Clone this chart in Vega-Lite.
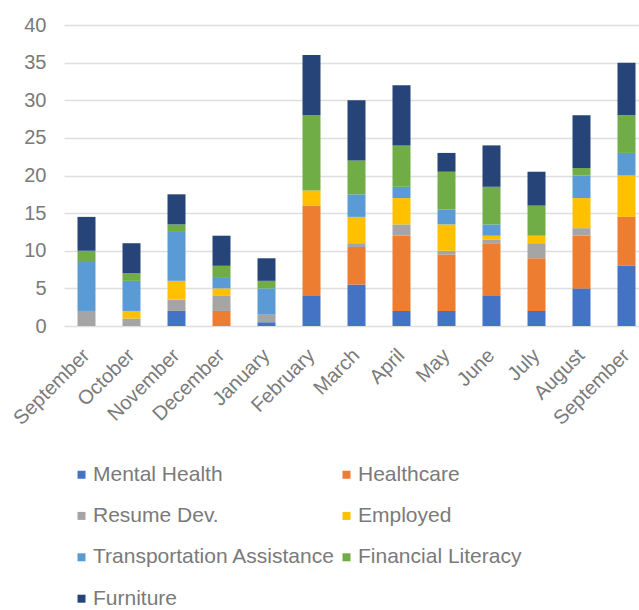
{
  "$schema": "https://vega.github.io/schema/vega-lite/v6.json",
  "autosize": {"type": "none"},
  "width": 575,
  "height": 301,
  "padding": {"left": 64, "top": 25, "right": 0, "bottom": 284},
  "background": "white",
  "config": {"view": {"stroke": null}, "font": "Liberation Sans"},
  "data": {"values": [
    {"month": "September 2019", "series": "Resume Dev.", "k": 2, "value": 2},
    {"month": "September 2019", "series": "Transportation Assistance", "k": 4, "value": 6.5},
    {"month": "September 2019", "series": "Financial Literacy", "k": 5, "value": 1.5},
    {"month": "September 2019", "series": "Furniture", "k": 6, "value": 4.5},

    {"month": "October 2019", "series": "Resume Dev.", "k": 2, "value": 1},
    {"month": "October 2019", "series": "Employed", "k": 3, "value": 1},
    {"month": "October 2019", "series": "Transportation Assistance", "k": 4, "value": 4},
    {"month": "October 2019", "series": "Financial Literacy", "k": 5, "value": 1},
    {"month": "October 2019", "series": "Furniture", "k": 6, "value": 4},

    {"month": "November 2019", "series": "Mental Health", "k": 0, "value": 2},
    {"month": "November 2019", "series": "Resume Dev.", "k": 2, "value": 1.5},
    {"month": "November 2019", "series": "Employed", "k": 3, "value": 2.5},
    {"month": "November 2019", "series": "Transportation Assistance", "k": 4, "value": 6.5},
    {"month": "November 2019", "series": "Financial Literacy", "k": 5, "value": 1},
    {"month": "November 2019", "series": "Furniture", "k": 6, "value": 4},

    {"month": "December 2019", "series": "Healthcare", "k": 1, "value": 2},
    {"month": "December 2019", "series": "Resume Dev.", "k": 2, "value": 2},
    {"month": "December 2019", "series": "Employed", "k": 3, "value": 1},
    {"month": "December 2019", "series": "Transportation Assistance", "k": 4, "value": 1.5},
    {"month": "December 2019", "series": "Financial Literacy", "k": 5, "value": 1.5},
    {"month": "December 2019", "series": "Furniture", "k": 6, "value": 4},

    {"month": "January 2020", "series": "Mental Health", "k": 0, "value": 0.5},
    {"month": "January 2020", "series": "Resume Dev.", "k": 2, "value": 1},
    {"month": "January 2020", "series": "Transportation Assistance", "k": 4, "value": 3.5},
    {"month": "January 2020", "series": "Financial Literacy", "k": 5, "value": 1},
    {"month": "January 2020", "series": "Furniture", "k": 6, "value": 3},

    {"month": "February 2020", "series": "Mental Health", "k": 0, "value": 4},
    {"month": "February 2020", "series": "Healthcare", "k": 1, "value": 12},
    {"month": "February 2020", "series": "Employed", "k": 3, "value": 2},
    {"month": "February 2020", "series": "Financial Literacy", "k": 5, "value": 10},
    {"month": "February 2020", "series": "Furniture", "k": 6, "value": 8},

    {"month": "March 2020", "series": "Mental Health", "k": 0, "value": 5.5},
    {"month": "March 2020", "series": "Healthcare", "k": 1, "value": 5},
    {"month": "March 2020", "series": "Resume Dev.", "k": 2, "value": 0.5},
    {"month": "March 2020", "series": "Employed", "k": 3, "value": 3.5},
    {"month": "March 2020", "series": "Transportation Assistance", "k": 4, "value": 3},
    {"month": "March 2020", "series": "Financial Literacy", "k": 5, "value": 4.5},
    {"month": "March 2020", "series": "Furniture", "k": 6, "value": 8},

    {"month": "April 2020", "series": "Mental Health", "k": 0, "value": 2},
    {"month": "April 2020", "series": "Healthcare", "k": 1, "value": 10},
    {"month": "April 2020", "series": "Resume Dev.", "k": 2, "value": 1.5},
    {"month": "April 2020", "series": "Employed", "k": 3, "value": 3.5},
    {"month": "April 2020", "series": "Transportation Assistance", "k": 4, "value": 1.5},
    {"month": "April 2020", "series": "Financial Literacy", "k": 5, "value": 5.5},
    {"month": "April 2020", "series": "Furniture", "k": 6, "value": 8},

    {"month": "May 2020", "series": "Mental Health", "k": 0, "value": 2},
    {"month": "May 2020", "series": "Healthcare", "k": 1, "value": 7.5},
    {"month": "May 2020", "series": "Resume Dev.", "k": 2, "value": 0.5},
    {"month": "May 2020", "series": "Employed", "k": 3, "value": 3.5},
    {"month": "May 2020", "series": "Transportation Assistance", "k": 4, "value": 2},
    {"month": "May 2020", "series": "Financial Literacy", "k": 5, "value": 5},
    {"month": "May 2020", "series": "Furniture", "k": 6, "value": 2.5},

    {"month": "June 2020", "series": "Mental Health", "k": 0, "value": 4},
    {"month": "June 2020", "series": "Healthcare", "k": 1, "value": 7},
    {"month": "June 2020", "series": "Resume Dev.", "k": 2, "value": 0.5},
    {"month": "June 2020", "series": "Employed", "k": 3, "value": 0.5},
    {"month": "June 2020", "series": "Transportation Assistance", "k": 4, "value": 1.5},
    {"month": "June 2020", "series": "Financial Literacy", "k": 5, "value": 5},
    {"month": "June 2020", "series": "Furniture", "k": 6, "value": 5.5},

    {"month": "July 2020", "series": "Mental Health", "k": 0, "value": 2},
    {"month": "July 2020", "series": "Healthcare", "k": 1, "value": 7},
    {"month": "July 2020", "series": "Resume Dev.", "k": 2, "value": 2},
    {"month": "July 2020", "series": "Employed", "k": 3, "value": 1},
    {"month": "July 2020", "series": "Financial Literacy", "k": 5, "value": 4},
    {"month": "July 2020", "series": "Furniture", "k": 6, "value": 4.5},

    {"month": "August 2020", "series": "Mental Health", "k": 0, "value": 5},
    {"month": "August 2020", "series": "Healthcare", "k": 1, "value": 7},
    {"month": "August 2020", "series": "Resume Dev.", "k": 2, "value": 1},
    {"month": "August 2020", "series": "Employed", "k": 3, "value": 4},
    {"month": "August 2020", "series": "Transportation Assistance", "k": 4, "value": 3},
    {"month": "August 2020", "series": "Financial Literacy", "k": 5, "value": 1},
    {"month": "August 2020", "series": "Furniture", "k": 6, "value": 7},

    {"month": "September 2020", "series": "Mental Health", "k": 0, "value": 8},
    {"month": "September 2020", "series": "Healthcare", "k": 1, "value": 6.5},
    {"month": "September 2020", "series": "Employed", "k": 3, "value": 5.5},
    {"month": "September 2020", "series": "Transportation Assistance", "k": 4, "value": 3},
    {"month": "September 2020", "series": "Financial Literacy", "k": 5, "value": 5},
    {"month": "September 2020", "series": "Furniture", "k": 6, "value": 7}
  ]},
  "mark": {"type": "bar"},
  "encoding": {
    "x": {
      "field": "month",
      "type": "nominal",
      "sort": ["September 2019", "October 2019", "November 2019", "December 2019", "January 2020", "February 2020", "March 2020", "April 2020", "May 2020", "June 2020", "July 2020", "August 2020", "September 2020"],
      "scale": {"range": [0, 585], "paddingInner": 0.6, "paddingOuter": 0.3},
      "axis": {
        "title": null,
        "domain": false,
        "ticks": false,
        "labelAngle": -45,
        "labelAlign": "right",
        "labelBaseline": "middle",
        "labelPadding": 26,
        "labelOffset": 0,
        "labelFontSize": 20,
        "labelColor": "#7a7a7a",
        "labelExpr": "split(datum.value, ' ')[0]"
      }
    },
    "y": {
      "field": "value",
      "type": "quantitative",
      "stack": "zero",
      "scale": {"domain": [0, 40], "nice": false},
      "axis": {
        "title": null,
        "values": [0, 5, 10, 15, 20, 25, 30, 35, 40],
        "domain": false,
        "ticks": false,
        "labelPadding": 18,
        "labelFontSize": 20,
        "labelColor": "#7a7a7a",
        "gridColor": "#dedede",
        "gridWidth": 1.5
      }
    },
    "color": {
      "field": "series",
      "type": "nominal",
      "scale": {
        "domain": ["Mental Health", "Healthcare", "Resume Dev.", "Employed", "Transportation Assistance", "Financial Literacy", "Furniture"],
        "range": ["#4472C4", "#ED7D31", "#A5A5A5", "#FFC000", "#5B9BD5", "#70AD47", "#264478"]
      },
      "legend": {
        "orient": "none",
        "legendX": 7,
        "legendY": 439,
        "direction": "horizontal",
        "columns": 2,
        "title": null,
        "padding": 0,
        "symbolType": "square",
        "symbolSize": 64,
        "symbolStrokeWidth": 0,
        "labelFontSize": 21,
        "labelColor": "#7a7a7a",
        "labelLimit": 400,
        "labelOffset": 1,
        "rowPadding": 19.4,
        "columnPadding": 0
      }
    },
    "order": {"field": "k", "type": "quantitative"}
  }
}
